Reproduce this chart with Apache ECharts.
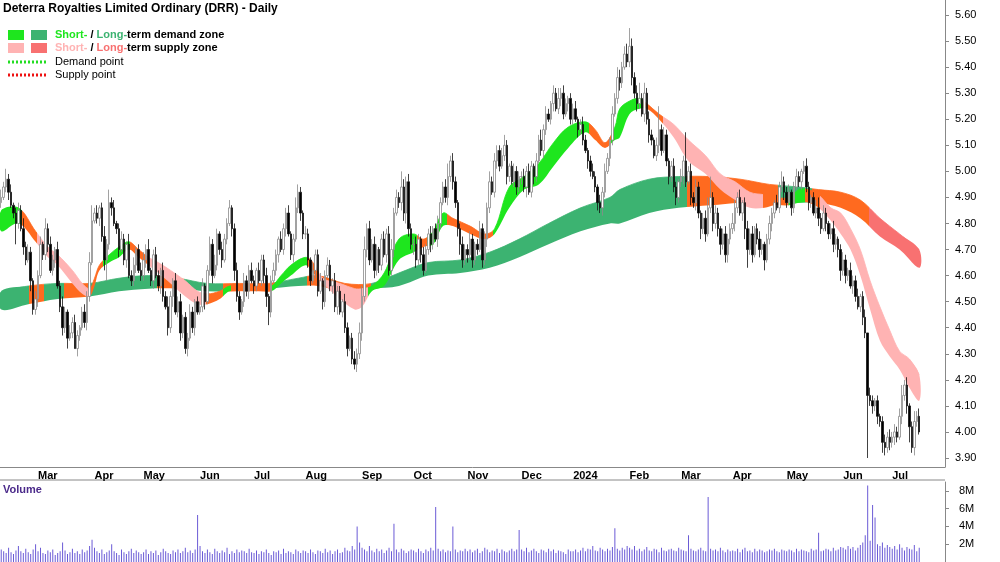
<!DOCTYPE html>
<html><head><meta charset="utf-8">
<script src="https://cdn.jsdelivr.net/npm/echarts@6/dist/echarts.min.js"></script>
<style>html,body{margin:0;padding:0;background:#fff}#c{width:1000px;height:562px}</style>
</head><body><div id="c"></div>
<script>
// ---- Data (prices in cents, volume in 0.1M) ----
const startDate = '2023-02-08';
const closes = [
490,494,497,492,487,484,480,485,478,471,466,469,458,447,451,
460,472,468,478,472,462,466,470,456,448,440,446,436,438,442,432,437,440,446,442,452,465,481,
484,482,486,475,466,472,488,486,480,478,470,474,466,472,460,458,464,470,462,460,
466,470,462,458,468,460,456,462,452,448,440,452,458,446,450,438,444,432,436,446,440,450,446,
448,456,450,462,472,460,464,476,470,466,474,480,486,478,462,452,446,450,458,454,462,458,
456,462,458,466,460,452,446,458,462,468,474,470,478,484,476,468,474,486,492,484,476,
476,466,458,462,468,454,458,450,460,464,456,458,448,454,446,450,440,432,436,428,426,430,438,
452,470,478,466,472,462,470,464,474,468,476,462,470,484,490,488,494,484,496,478,472,
472,466,474,468,462,470,476,472,478,474,480,488,494,490,498,504,496,488,478,472,466,470,
468,474,466,472,470,478,466,474,486,496,492,504,508,502,506,510,498,502,496,500,494,498,
498,494,500,492,502,498,504,512,508,516,522,520,526,530,524,528,530,522,526,528,520,
524,520,516,518,512,508,504,500,498,494,488,486,492,500,505,512,522,528,536,534,540,545,542,
548,536,530,526,528,522,530,520,514,512,506,510,516,508,514,504,498,502,494,490,496,
498,504,496,500,490,488,494,484,478,482,476,486,490,480,484,478,472,476,468,474,478,
480,486,490,484,488,478,470,476,468,478,474,470,472,466,474,480,484,488,486,494,496,492,
488,492,486,494,498,496,500,502,494,488,490,484,486,482,478,484,480,476,478,472,474,470,462,
466,460,462,456,458,452,448,452,444,438,414,412,410,412,406,404,396,394,398,396,
398,400,398,406,414,418,410,402,394,404,406,400];
const hiWick = [
3,2,4,2,3,1,2,3,2,4,2,3,2,1,3,
2,3,1,4,2,3,2,1,3,2,4,2,1,3,2,3,2,1,2,3,2,4,6,
2,3,1,2,4,2,5,2,3,1,2,3,2,1,4,2,3,1,2,3,
3,2,4,1,2,3,2,1,3,2,4,2,1,3,2,3,1,2,2,3,2,1,2,
2,3,1,2,3,2,4,2,1,3,2,2,3,1,2,3,2,1,3,2,2,3,
2,1,3,2,2,3,1,2,3,2,1,3,2,2,3,1,2,4,3,2,1,
3,2,1,3,2,2,3,1,2,3,2,1,3,2,2,1,3,2,1,2,3,2,4,
4,5,2,3,2,3,2,1,2,3,2,3,4,2,3,2,6,3,2,3,2,
2,3,2,1,3,2,2,3,1,2,3,2,2,3,5,2,3,2,1,2,3,2,
2,3,2,1,2,3,2,3,2,4,2,3,2,2,3,4,2,1,2,3,2,2,
2,3,2,3,2,1,3,2,4,2,3,2,1,3,2,4,2,3,2,1,2,
2,3,1,2,3,2,1,2,3,2,1,3,2,3,2,1,3,2,4,3,2,3,4,
7,3,2,3,6,2,4,2,3,2,1,3,9,2,3,2,1,2,3,2,1,
3,2,11,2,3,2,3,2,1,2,3,4,8,2,3,2,1,2,3,2,2,
4,3,2,3,1,2,3,2,3,1,2,3,2,1,2,3,2,1,3,2,4,2,
2,3,1,2,3,2,1,2,3,2,1,2,3,4,2,3,2,1,2,3,2,1,2,
3,2,1,3,2,2,3,1,2,3,0,3,2,1,2,1,2,3,2,3,
2,3,2,3,4,2,3,1,2,4,2,3];
const loWick = [
2,1,2,3,1,2,8,2,1,3,2,1,4,2,2,
3,1,2,2,3,1,2,3,1,2,3,2,4,1,2,0,3,2,1,2,3,2,1,
1,2,3,2,4,8,2,3,1,2,3,1,2,3,1,2,2,3,1,2,
2,3,1,2,3,1,2,3,2,1,3,2,4,1,2,3,2,2,3,1,2,3,1,
1,2,3,1,2,3,1,2,2,3,1,2,1,3,4,2,3,1,2,2,3,1,
3,2,1,2,3,4,5,2,1,2,3,1,2,3,1,2,3,1,2,3,2,
2,3,2,1,3,2,1,3,2,1,2,3,2,3,1,2,2,3,1,2,2,3,2,
3,2,3,2,1,3,2,3,2,1,3,2,2,3,1,2,3,3,4,3,2,
4,3,2,3,2,1,2,3,2,1,3,2,1,2,3,2,3,2,3,4,3,2,
3,2,3,2,2,1,3,2,3,2,1,2,3,2,1,2,3,2,1,2,3,2,
3,2,4,1,2,3,2,1,2,3,2,1,2,3,1,2,3,2,1,3,2,
2,1,3,2,2,1,3,2,1,2,3,2,3,2,1,3,2,1,2,3,2,1,2,
2,3,2,3,2,1,3,2,3,2,1,2,3,2,1,2,3,2,2,3,2,
2,3,2,1,3,2,3,2,4,2,3,1,2,3,2,3,4,2,3,3,2,
2,3,2,1,3,4,7,2,3,1,2,3,2,4,1,2,3,2,1,2,2,3,
2,1,3,2,1,2,3,1,2,3,2,1,2,3,2,1,3,2,2,3,2,3,4,
2,3,2,1,3,2,1,2,3,2,24,2,3,2,3,2,4,3,2,3,
2,3,2,1,3,2,3,6,2,3,2,1];
const volumes = [
14,12,10,16,11,9,13,18,12,10,15,11,9,14,20,
12,16,10,9,13,11,14,8,10,12,22,13,9,11,15,10,12,9,14,11,13,18,25,
16,12,10,14,9,11,13,20,12,10,8,14,11,9,12,15,10,13,11,9,
11,14,9,12,10,13,8,11,15,12,10,9,13,11,14,10,12,16,11,13,10,14,53,
18,12,10,14,11,9,15,12,10,13,11,16,9,12,10,14,11,13,12,10,15,11,
10,13,9,12,11,14,10,8,12,11,13,9,15,10,12,11,9,14,12,10,13,
12,10,14,11,9,13,12,10,15,11,13,9,12,14,10,11,16,13,12,18,14,40,22,
16,14,12,18,13,11,15,12,14,10,13,16,12,43,14,11,15,13,10,12,14,
13,11,15,12,10,14,12,16,13,62,15,12,14,11,13,12,40,14,11,13,12,15,
12,14,11,13,15,10,12,16,14,11,13,12,15,10,14,12,11,13,15,12,14,36,
14,12,16,11,13,15,12,10,14,13,11,15,12,14,10,13,12,11,9,14,12,
12,14,11,13,16,12,15,14,18,13,12,16,14,12,15,13,17,38,15,13,16,14,18,
16,14,18,13,15,12,14,17,13,12,15,14,11,16,13,12,14,15,13,12,16,
14,13,12,30,15,13,12,14,16,13,12,73,15,13,14,12,16,13,11,14,12,
13,12,15,11,14,16,12,13,11,15,12,14,13,11,12,14,13,15,12,11,14,13,
12,14,13,11,15,12,14,13,12,11,15,13,14,33,12,13,15,14,12,16,13,14,17,
16,14,18,15,17,13,16,19,22,30,86,24,64,50,20,18,22,16,19,17,
15,18,14,20,16,13,17,15,14,19,12,16];
// short-term zone: [day index, upper, lower]
const shortIdx = [0,7,14,19,23,29,33,36,38,40,44,48,52,56,60,64,69,75,80,84,89,93,99,105,110,114,118,124,127,131,138,144,147,151,156,162,168,172,176,180,184,191,197,201,207,213,219,225,231,238,242,246,250,252,256,260,263,268,274,280,287,293,299,305,311,315,321,325,329,333,338,342,346,350,354,358,362,366,370,374];
const shortUp = [4.85,4.86,4.77,4.71,4.68,4.62,4.57,4.55,4.59,4.64,4.68,4.71,4.73,4.70,4.67,4.65,4.62,4.58,4.54,4.53,4.54,4.56,4.56,4.57,4.56,4.60,4.64,4.67,4.65,4.59,4.57,4.55,4.55,4.56,4.61,4.74,4.76,4.74,4.77,4.84,4.82,4.79,4.76,4.78,4.94,4.98,5.03,5.11,5.17,5.19,5.16,5.11,5.17,5.24,5.27,5.28,5.26,5.22,5.18,5.12,5.06,4.99,4.96,4.92,4.91,4.90,4.90,4.93,4.93,4.91,4.86,4.84,4.78,4.70,4.58,4.48,4.39,4.31,4.28,4.22];
const shortLo = [4.77,4.80,4.73,4.67,4.64,4.57,4.53,4.52,4.56,4.62,4.65,4.67,4.70,4.67,4.64,4.61,4.57,4.52,4.49,4.49,4.51,4.54,4.54,4.54,4.54,4.57,4.60,4.64,4.61,4.57,4.51,4.47,4.48,4.54,4.56,4.66,4.69,4.71,4.72,4.79,4.79,4.76,4.74,4.76,4.86,4.93,4.95,5.02,5.09,5.15,5.12,5.09,5.12,5.13,5.22,5.24,5.24,5.20,5.13,5.04,4.99,4.93,4.89,4.86,4.86,4.87,4.87,4.88,4.88,4.86,4.81,4.76,4.70,4.60,4.47,4.35,4.29,4.24,4.17,4.12];
// long-term zone
const longIdx = [0,11,23,36,48,60,72,84,97,109,121,129,140,151,162,174,187,199,211,223,236,248,252,264,276,289,301,313,325,333,342,350,358,366,374];
const longUp = [4.54,4.56,4.57,4.57,4.59,4.60,4.59,4.57,4.57,4.57,4.59,4.60,4.57,4.57,4.61,4.65,4.66,4.69,4.74,4.80,4.86,4.90,4.93,4.97,4.98,4.98,4.97,4.95,4.94,4.93,4.92,4.89,4.82,4.76,4.70];
const longLo = [4.47,4.49,4.51,4.52,4.54,4.55,4.55,4.54,4.54,4.55,4.56,4.56,4.54,4.55,4.56,4.60,4.61,4.63,4.67,4.72,4.77,4.80,4.80,4.84,4.86,4.87,4.88,4.88,4.88,4.88,4.86,4.82,4.75,4.70,4.63];
// zone colour states: [from day, to day, state]  D=short demand, S=short supply, T=transition, L=long demand, R=long supply
const shortStates = [[0,9,'D'],[9,15,'T'],[15,37,'S'],[37,42,'T'],[42,53,'D'],[53,60,'T'],[60,84,'S'],[84,91,'T'],[91,94,'D'],[94,111,'T'],[111,125,'D'],[125,130,'T'],[130,150,'S'],[150,170,'D'],[170,174,'T'],[174,182,'D'],[182,201,'T'],[201,240,'D'],[240,249,'T'],[249,262,'D'],[262,270,'T'],[270,311,'S'],[311,321,'T'],[321,328,'D'],[328,334,'T'],[334,376,'S']];
const longStates = [[0,12,'L'],[12,18,'T'],[18,26,'L'],[26,36,'T'],[36,64,'L'],[64,75,'T'],[75,91,'L'],[91,112,'T'],[112,125,'L'],[125,151,'T'],[151,280,'L'],[280,317,'T'],[317,331,'L'],[331,354,'T'],[354,376,'R']];
const priceTicks = [3.9,4.0,4.1,4.2,4.3,4.4,4.5,4.6,4.7,4.8,4.9,5.0,5.1,5.2,5.3,5.4,5.5,5.6];
const volTicks = [2e6,4e6,6e6,8e6];

// ---- build ----
const COL = {D:'#1ee61e', S:'#ffb3b3', T:'#ff6a1f', L:'#3cb371', R:'#f87171'};
const N = closes.length, PAD = 10, TOT = N + PAD;
const dates = [];
{ let d = new Date(startDate + 'T00:00:00Z');
  while (dates.length < N) { const w = d.getUTCDay(); if (w !== 0 && w !== 6) dates.push(d.toISOString().slice(0,10)); d.setUTCDate(d.getUTCDate()+1); }
  for (let i=0;i<PAD;i++) dates.push('pad'+i); }
const MN = ['Jan','Feb','Mar','Apr','May','Jun','Jul','Aug','Sep','Oct','Nov','Dec'];
const firstOfMonth = new Set();
for (let i=1;i<N;i++) if (dates[i].slice(5,7)!==dates[i-1].slice(5,7)) firstOfMonth.add(i);
const ohlc = closes.map((c,i)=>{ const o = i? closes[i-1] : 488; return [o/100, c/100, (Math.min(o,c)-loWick[i])/100, (Math.max(o,c)+hiWick[i])/100]; });
const vols = volumes.map(v=>v*1e5);

function bandSeries(idx, up, lo, states){
  return {
    type:'custom', xAxisIndex:0, yAxisIndex:0, silent:true, z:1,
    data: idx.map((x,i)=>[x, up[i], lo[i]]),
    encode:{x:0, y:[1,2]},
    renderItem(params, api){
      if (params.dataIndex !== 0) return null;
      const top = idx.map((x,i)=>api.coord([x, up[i]]));
      const bot = idx.map((x,i)=>api.coord([x, lo[i]])).reverse();
      const x0 = api.coord([0, 5])[0] - (api.size([1,0])[0])/2;
      const x1 = x0 + api.size([1,0])[0] * TOT;
      const stops = [];
      states.forEach(([a,b,s])=>{
        const pa = Math.max(0, Math.min(1, a / TOT)), pb = Math.max(0, Math.min(1, b / TOT));
        stops.push({offset:pa, color:COL[s]}, {offset:pb, color:COL[s]});
      });
      stops.push({offset:1, color:COL[states[states.length-1][2]]});
      const fill = new echarts.graphic.LinearGradient(x0, 0, x1, 0, stops, true);
      return {type:'group', children:[
        {type:'polyline', shape:{points:top, smooth:0.35}, style:{stroke:fill, fill:null, lineWidth:0.8}},
        {type:'polygon', shape:{points:top.concat(bot), smooth:0.35}, style:{fill, stroke:null}}
      ]};
    }
  };
}

const series = [bandSeries(longIdx,longUp,longLo,longStates), bandSeries(shortIdx,shortUp,shortLo,shortStates),
  {type:'candlestick', xAxisIndex:0, yAxisIndex:0, data:ohlc, barWidth:2, z:3,
   itemStyle:{color:'#ffffff', color0:'#000000', borderColor:'#8a8a8a', borderColor0:'#111111', borderWidth:0.8}},
  {type:'bar', xAxisIndex:1, yAxisIndex:1, data:vols, barWidth:1, itemStyle:{color:'#6b5bd6'}}];

const txt = {fontFamily:'Liberation Sans, Arial', fontSize:11, color:'#000'};
const chart = echarts.init(document.getElementById('c'));
chart.setOption({
  animation:false,
  grid:[{left:0,right:55,top:0,height:467},{left:0,right:55,top:482,height:81}],
  xAxis:[
    {type:'category', gridIndex:0, data:dates, boundaryGap:true,
     axisLine:{lineStyle:{color:'#888'}}, axisTick:{interval:(i)=>firstOfMonth.has(i), length:4, lineStyle:{color:'#888'}},
     axisLabel:{interval:(i)=>firstOfMonth.has(i), align:'left', margin:3,
       formatter:(v)=> v.slice(5,7)==='01' ? v.slice(0,4) : MN[+v.slice(5,7)-1], fontWeight:'bold', ...txt},
     splitLine:{show:false}},
    {type:'category', gridIndex:1, data:dates, boundaryGap:true, axisLine:{show:false}, axisTick:{show:false}, axisLabel:{show:false}}
  ],
  yAxis:[
    {type:'value', gridIndex:0, position:'right', min:3.8655, max:5.6576, scale:true, splitLine:{show:false},
     axisLine:{show:true, lineStyle:{color:'#888'}}, axisTick:{show:true, customValues:priceTicks, length:4, lineStyle:{color:'#888'}},
     axisLabel:{customValues:priceTicks, formatter:v=>v.toFixed(2), margin:10, ...txt}},
    {type:'value', gridIndex:1, position:'right', min:0, max:9e6, splitLine:{show:false},
     axisLine:{show:true, lineStyle:{color:'#888'}}, axisTick:{show:true, customValues:volTicks, length:4, lineStyle:{color:'#888'}},
     axisLabel:{customValues:volTicks, formatter:v=>(v/1e6)+'M', margin:14, ...txt}}
  ],
  series,
  graphic:[
    {type:'line', shape:{x1:0,y1:480,x2:945,y2:480}, style:{stroke:'#888',lineWidth:1}},
    {type:'text', left:3, top:3, style:{text:'Deterra Royalties Limited Ordinary (DRR) - Daily', font:'bold 12px Liberation Sans, Arial', fill:'#000'}},
    {type:'rect', shape:{x:8,y:30,width:16,height:10}, style:{fill:COL.D}},
    {type:'rect', shape:{x:31,y:30,width:16,height:10}, style:{fill:COL.L}},
    {type:'rect', shape:{x:8,y:43,width:16,height:10}, style:{fill:COL.S}},
    {type:'rect', shape:{x:31,y:43,width:16,height:10}, style:{fill:COL.R}},
    {type:'text', x:55, y:29, style:{text:'{g|Short-} / {l|Long-}term demand zone', font:'bold 11px Liberation Sans, Arial', fill:'#000', rich:{g:{fill:COL.D, font:'bold 11px Liberation Sans, Arial'}, l:{fill:COL.L, font:'bold 11px Liberation Sans, Arial'}}}},
    {type:'text', x:55, y:42, style:{text:'{g|Short-} / {l|Long-}term supply zone', font:'bold 11px Liberation Sans, Arial', fill:'#000', rich:{g:{fill:COL.S, font:'bold 11px Liberation Sans, Arial'}, l:{fill:COL.R, font:'bold 11px Liberation Sans, Arial'}}}},
    {type:'line', shape:{x1:8,y1:62,x2:46,y2:62}, style:{stroke:'#22dd22',lineWidth:3,lineDash:[2,2]}},
    {type:'line', shape:{x1:8,y1:75,x2:46,y2:75}, style:{stroke:'#ee1111',lineWidth:3,lineDash:[2,2]}},
    {type:'text', x:55, y:56, style:{text:'Demand point', font:'11px Liberation Sans, Arial', fill:'#000'}},
    {type:'text', x:55, y:69, style:{text:'Supply point', font:'11px Liberation Sans, Arial', fill:'#000'}},
    {type:'text', x:3, y:484, style:{text:'Volume', font:'bold 11px Liberation Sans, Arial', fill:'#4b2a8a'}}
  ]
});
</script></body></html>
